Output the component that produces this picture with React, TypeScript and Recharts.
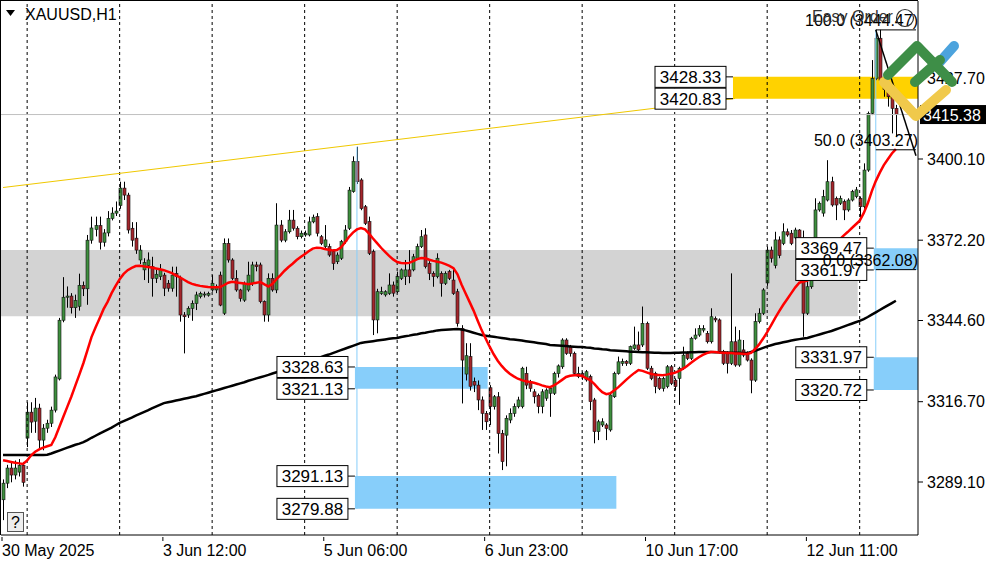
import React from 'react';
import {
  ComposedChart, Bar, Line, XAxis, YAxis, ReferenceArea, ReferenceLine, ReferenceDot,
} from 'recharts';

// H1 bars, [open, high, low, close]
const ohlc: number[][] = [
  [3283.0, 3290.0, 3276.0, 3288.7], [3288.7, 3295.0, 3287.0, 3293.9], [3293.9, 3296.0, 3289.0, 3291.5],
  [3291.5, 3296.5, 3290.0, 3293.9], [3292.5, 3297.0, 3291.0, 3294.8], [3294.8, 3296.0, 3287.5, 3289.0],
  [3304.2, 3316.5, 3301.1, 3313.1], [3313.1, 3316.5, 3306.0, 3309.7], [3310.0, 3318.0, 3306.0, 3314.5],
  [3314.5, 3316.0, 3300.5, 3303.5], [3303.5, 3309.0, 3300.0, 3307.6], [3307.6, 3310.5, 3306.0, 3309.3],
  [3309.3, 3315.0, 3308.0, 3313.8], [3313.8, 3326.0, 3313.0, 3325.2], [3324.5, 3345.5, 3324.0, 3344.7],
  [3344.7, 3359.5, 3344.0, 3352.6], [3352.6, 3356.3, 3349.0, 3353.0], [3353.0, 3354.0, 3347.0, 3349.0],
  [3349.0, 3353.5, 3345.5, 3351.5], [3349.5, 3360.7, 3348.0, 3356.7], [3356.7, 3358.0, 3353.0, 3355.5],
  [3355.5, 3374.0, 3350.0, 3372.2], [3372.2, 3380.3, 3371.0, 3376.4], [3375.9, 3380.3, 3373.5, 3377.2],
  [3377.2, 3380.3, 3369.0, 3371.5], [3371.5, 3376.0, 3370.0, 3374.7], [3374.7, 3382.2, 3373.5, 3379.7],
  [3379.7, 3383.5, 3379.0, 3381.5], [3381.5, 3385.5, 3380.5, 3382.2], [3384.1, 3392.3, 3383.0, 3390.1],
  [3390.1, 3392.3, 3386.0, 3387.7], [3387.7, 3388.5, 3374.5, 3375.7], [3376.3, 3378.4, 3370.0, 3372.2],
  [3372.9, 3378.4, 3367.5, 3368.8], [3365.4, 3370.5, 3364.0, 3368.8], [3362.0, 3366.0, 3358.5, 3364.5],
  [3363.5, 3368.0, 3357.5, 3365.4], [3363.1, 3366.5, 3352.8, 3359.1], [3359.1, 3362.0, 3357.5, 3360.5],
  [3359.7, 3364.0, 3358.5, 3362.0], [3360.2, 3361.0, 3353.0, 3355.7], [3357.4, 3358.5, 3354.5, 3355.7],
  [3355.7, 3363.1, 3354.5, 3360.2], [3360.8, 3363.1, 3352.8, 3359.7], [3359.1, 3360.0, 3344.2, 3346.5],
  [3346.5, 3347.5, 3333.3, 3345.9], [3346.5, 3349.5, 3345.5, 3348.8], [3348.8, 3351.5, 3344.5, 3350.5],
  [3350.5, 3354.5, 3348.2, 3353.4], [3352.8, 3354.5, 3352.2, 3353.9], [3353.4, 3354.5, 3352.5, 3353.7],
  [3353.3, 3354.5, 3352.8, 3353.9], [3355.1, 3360.2, 3354.5, 3357.4], [3355.1, 3357.0, 3354.0, 3356.2],
  [3360.2, 3361.4, 3349.5, 3349.9], [3347.1, 3372.8, 3346.5, 3371.1], [3371.1, 3372.8, 3364.5, 3365.4],
  [3365.4, 3366.0, 3358.5, 3359.1], [3359.1, 3361.9, 3354.5, 3355.1], [3355.1, 3355.5, 3351.1, 3352.2],
  [3351.6, 3358.0, 3351.0, 3357.4], [3355.1, 3364.8, 3354.5, 3360.2], [3357.4, 3364.8, 3356.5, 3363.7],
  [3363.7, 3364.8, 3361.5, 3363.1], [3363.7, 3364.5, 3350.5, 3351.1], [3351.1, 3351.5, 3344.2, 3346.5],
  [3346.5, 3360.8, 3344.2, 3359.1], [3359.1, 3360.8, 3354.5, 3355.1], [3355.1, 3384.9, 3354.0, 3377.4],
  [3377.4, 3379.1, 3371.5, 3372.2], [3372.2, 3376.0, 3371.5, 3375.1], [3375.1, 3382.6, 3374.5, 3379.1],
  [3379.1, 3382.6, 3375.5, 3376.3], [3376.3, 3377.0, 3372.5, 3373.4], [3373.4, 3375.5, 3372.8, 3374.6],
  [3374.0, 3375.5, 3373.4, 3374.6], [3374.0, 3380.3, 3373.5, 3378.5], [3378.5, 3381.0, 3378.0, 3380.1],
  [3380.3, 3381.5, 3373.5, 3374.6], [3373.4, 3374.0, 3370.5, 3371.1], [3370.0, 3377.4, 3369.5, 3372.3],
  [3370.0, 3371.0, 3366.5, 3367.1], [3368.3, 3369.0, 3362.0, 3364.2], [3364.8, 3368.0, 3364.0, 3367.1],
  [3366.0, 3372.3, 3365.4, 3371.7], [3371.7, 3377.4, 3371.0, 3375.7], [3376.3, 3390.5, 3375.7, 3389.4],
  [3388.9, 3401.0, 3388.5, 3399.2], [3399.2, 3404.3, 3391.5, 3392.3], [3392.9, 3393.5, 3382.5, 3383.1],
  [3383.7, 3384.3, 3377.4, 3378.0], [3378.6, 3380.3, 3367.1, 3367.7], [3368.3, 3369.0, 3339.6, 3344.8],
  [3344.8, 3355.5, 3340.2, 3354.5], [3353.9, 3356.2, 3353.4, 3354.5], [3353.4, 3355.0, 3352.8, 3354.5],
  [3353.9, 3360.8, 3353.4, 3356.8], [3356.8, 3358.0, 3352.8, 3354.0], [3354.5, 3361.4, 3354.0, 3359.7],
  [3359.1, 3362.5, 3358.5, 3362.0], [3359.7, 3365.4, 3356.8, 3362.0], [3362.0, 3368.8, 3357.4, 3359.7],
  [3362.0, 3367.5, 3361.5, 3366.5], [3366.0, 3371.0, 3365.5, 3370.0], [3370.0, 3375.7, 3369.5, 3373.4],
  [3374.0, 3376.3, 3362.5, 3363.1], [3364.2, 3365.0, 3358.5, 3360.8], [3360.8, 3361.5, 3356.2, 3359.7],
  [3359.7, 3367.7, 3359.1, 3366.0], [3360.8, 3361.5, 3352.8, 3357.4], [3357.4, 3361.5, 3356.8, 3360.8],
  [3361.4, 3362.0, 3358.5, 3359.1], [3358.5, 3362.5, 3353.4, 3353.9], [3354.5, 3355.5, 3342.5, 3343.6],
  [3341.9, 3343.0, 3316.1, 3331.0], [3326.2, 3336.8, 3324.0, 3332.5], [3332.2, 3336.8, 3320.5, 3322.0],
  [3323.6, 3325.0, 3320.0, 3322.4], [3322.4, 3324.0, 3313.8, 3317.3], [3317.3, 3318.5, 3307.0, 3312.7],
  [3312.7, 3313.5, 3307.0, 3309.8], [3321.5, 3322.4, 3308.7, 3315.0], [3315.0, 3319.0, 3314.0, 3318.4],
  [3318.4, 3320.0, 3298.9, 3305.8], [3305.8, 3307.0, 3293.2, 3296.1], [3305.2, 3312.0, 3294.5, 3311.0],
  [3310.4, 3314.4, 3309.3, 3312.7], [3312.7, 3316.1, 3311.5, 3315.0], [3315.0, 3318.4, 3314.4, 3317.3],
  [3315.0, 3328.7, 3314.4, 3328.2], [3326.4, 3328.7, 3321.0, 3322.4], [3323.6, 3324.2, 3320.1, 3321.3],
  [3320.1, 3321.0, 3316.1, 3318.4], [3318.9, 3319.5, 3312.7, 3315.0], [3315.0, 3321.0, 3312.7, 3320.1],
  [3317.9, 3321.3, 3317.0, 3320.7], [3319.6, 3322.0, 3311.5, 3321.3], [3319.6, 3327.0, 3319.0, 3326.4],
  [3326.4, 3329.5, 3325.0, 3329.0], [3328.7, 3338.5, 3328.0, 3337.9], [3337.9, 3338.5, 3332.8, 3333.3],
  [3335.6, 3336.2, 3332.2, 3333.3], [3333.3, 3333.9, 3325.9, 3326.4], [3325.3, 3328.7, 3324.8, 3326.4],
  [3326.4, 3327.0, 3324.2, 3325.3], [3324.2, 3327.6, 3323.6, 3327.0], [3325.3, 3326.0, 3313.8, 3316.7],
  [3317.3, 3318.0, 3302.4, 3306.4], [3306.4, 3310.5, 3303.5, 3309.8], [3308.7, 3311.0, 3308.0, 3309.8],
  [3308.7, 3309.3, 3303.5, 3307.5], [3307.0, 3319.6, 3306.4, 3319.0], [3318.4, 3327.0, 3318.0, 3326.4],
  [3326.4, 3332.2, 3326.0, 3330.4], [3329.9, 3331.5, 3329.0, 3330.5], [3330.5, 3331.0, 3329.0, 3329.9],
  [3329.9, 3336.0, 3329.3, 3335.6], [3335.0, 3342.5, 3334.5, 3336.2], [3336.2, 3340.8, 3334.0, 3334.5],
  [3336.2, 3349.4, 3335.5, 3343.6], [3343.6, 3344.2, 3327.6, 3328.2], [3328.2, 3329.0, 3324.1, 3324.7],
  [3326.4, 3327.0, 3319.6, 3321.9], [3324.7, 3325.3, 3320.7, 3321.3], [3321.3, 3325.3, 3320.2, 3324.7],
  [3321.9, 3329.3, 3321.3, 3328.7], [3328.7, 3329.3, 3322.4, 3323.0], [3324.1, 3324.7, 3320.5, 3321.9],
  [3324.7, 3328.7, 3315.6, 3328.2], [3328.2, 3335.6, 3327.6, 3332.7], [3333.3, 3334.0, 3331.0, 3331.6],
  [3331.6, 3339.0, 3331.0, 3338.5], [3338.5, 3341.9, 3338.0, 3339.6], [3339.6, 3343.0, 3339.0, 3341.9],
  [3341.3, 3343.0, 3340.5, 3341.9], [3340.2, 3341.0, 3336.7, 3337.3], [3337.3, 3348.8, 3336.7, 3345.9],
  [3345.3, 3346.0, 3344.0, 3344.8], [3344.8, 3345.3, 3333.3, 3333.9], [3333.9, 3334.5, 3329.3, 3329.9],
  [3333.3, 3334.0, 3326.4, 3329.9], [3329.9, 3360.8, 3329.3, 3337.3], [3337.3, 3342.5, 3328.7, 3329.3],
  [3329.3, 3341.3, 3328.7, 3337.9], [3334.5, 3337.9, 3332.0, 3332.7], [3333.3, 3334.0, 3330.5, 3331.0],
  [3331.0, 3331.6, 3319.6, 3324.1], [3324.1, 3347.1, 3323.5, 3344.2], [3344.2, 3348.8, 3343.6, 3347.1],
  [3347.1, 3355.7, 3346.5, 3355.1], [3357.5, 3370.0, 3356.5, 3368.8], [3368.8, 3370.0, 3364.5, 3366.0],
  [3363.5, 3375.1, 3362.5, 3372.3], [3372.3, 3373.5, 3366.0, 3367.0], [3371.1, 3378.0, 3370.5, 3375.1],
  [3375.1, 3376.2, 3373.4, 3374.0], [3374.6, 3375.7, 3370.5, 3371.1], [3373.0, 3376.5, 3372.5, 3375.7],
  [3375.7, 3376.0, 3369.4, 3370.0], [3372.5, 3375.5, 3339.0, 3347.1], [3347.1, 3366.5, 3346.5, 3356.2],
  [3356.2, 3366.0, 3355.5, 3365.4], [3365.4, 3386.6, 3364.8, 3382.6], [3382.6, 3385.5, 3382.0, 3384.9],
  [3381.5, 3389.5, 3380.3, 3387.2], [3386.0, 3399.7, 3385.5, 3392.3], [3392.3, 3394.0, 3383.7, 3384.3],
  [3386.6, 3387.2, 3379.1, 3384.3], [3384.9, 3387.5, 3384.3, 3386.6], [3385.5, 3386.2, 3379.1, 3382.6],
  [3382.6, 3386.6, 3382.0, 3386.0], [3386.0, 3389.5, 3385.5, 3388.9], [3387.2, 3390.5, 3386.6, 3389.5],
  [3386.6, 3387.2, 3379.1, 3383.7], [3383.7, 3398.6, 3383.0, 3396.3], [3396.3, 3416.4, 3395.7, 3415.8],
  [3415.8, 3434.1, 3415.2, 3427.8], [3427.8, 3444.5, 3427.2, 3441.6], [3441.6, 3444.5, 3426.5, 3427.2],
  [3427.2, 3430.0, 3421.5, 3424.0], [3424.0, 3426.0, 3418.1, 3421.5], [3421.5, 3423.0, 3408.9, 3417.5],
  [3417.5, 3418.7, 3407.8, 3415.4],
];

// red moving average (fast)
const maFast: number[] = [
  3296.6, 3296.3, 3296.0, 3295.7, 3295.5, 3295.3, 3296.5, 3298.3, 3299.5, 3300.3, 3300.9, 3301.4,
  3301.8, 3304.5, 3308.0, 3311.5, 3315.0, 3318.5, 3322.3, 3326.1, 3330.0, 3334.4, 3338.9, 3342.2,
  3345.3, 3348.5, 3351.0, 3354.0, 3356.5, 3358.8, 3360.6, 3361.9, 3362.7, 3363.3, 3363.4, 3363.2,
  3363.0, 3362.8, 3362.5, 3362.2, 3361.9, 3361.4, 3360.9, 3360.1, 3359.4, 3358.6, 3357.8, 3357.2,
  3356.8, 3356.5, 3356.3, 3356.1, 3356.0, 3356.0, 3356.1, 3356.8, 3357.6, 3357.9, 3357.7, 3357.5,
  3357.3, 3357.1, 3357.3, 3357.6, 3357.8, 3357.0, 3356.3, 3357.2, 3358.8, 3360.2, 3361.7, 3363.0,
  3364.1, 3365.4, 3366.4, 3367.4, 3368.4, 3369.3, 3369.6, 3369.5, 3369.2, 3368.9, 3368.7, 3368.8,
  3369.7, 3371.4, 3373.3, 3374.8, 3375.9, 3376.4, 3375.9, 3374.5, 3372.8, 3371.2, 3369.6, 3368.2,
  3366.8, 3365.6, 3364.7, 3364.4, 3364.3, 3364.4, 3365.0, 3365.7, 3366.1, 3366.0, 3365.5, 3365.1,
  3364.8, 3364.5, 3364.0, 3363.4, 3362.6, 3360.5, 3357.0, 3354.0, 3351.0, 3348.0, 3344.6, 3341.3,
  3338.4, 3335.6, 3333.0, 3330.8, 3329.0, 3327.5, 3326.3, 3325.4, 3324.6, 3324.1, 3323.7, 3323.5,
  3323.2, 3322.8, 3322.3, 3321.9, 3321.7, 3322.3, 3323.2, 3324.2, 3325.2, 3325.6, 3325.8, 3325.9,
  3325.5, 3324.8, 3324.1, 3322.8, 3321.3, 3320.0, 3319.3, 3319.6, 3320.6, 3321.7, 3323.0, 3324.3,
  3325.5, 3326.6, 3327.6, 3327.3, 3326.8, 3326.3, 3326.0, 3325.9, 3325.8, 3326.0, 3326.3, 3326.6,
  3327.2, 3328.0, 3328.9, 3330.0, 3331.0, 3332.0, 3332.8, 3333.4, 3333.8, 3333.8, 3333.6, 3333.5,
  3333.4, 3333.4, 3333.3, 3333.3, 3333.2, 3333.1, 3333.5, 3334.8, 3336.4, 3338.4, 3340.6, 3343.0,
  3345.5, 3347.8, 3350.0, 3352.0, 3354.0, 3356.0, 3357.6, 3358.0, 3358.3, 3359.8, 3361.6, 3363.6,
  3365.7, 3367.8, 3369.4, 3370.9, 3372.4, 3373.8, 3375.0, 3376.3, 3377.6, 3378.9, 3381.5, 3384.8,
  3389.0, 3392.5, 3395.4, 3398.0, 3400.0, 3402.0, 3403.5,
];

// black moving average (slow)
const maSlow: number[] = [
  3298.4, 3298.4, 3298.4, 3298.4, 3298.4, 3298.4, 3298.4, 3298.4, 3298.4, 3298.4, 3298.4, 3298.5,
  3298.9, 3299.4, 3299.9, 3300.4, 3300.9, 3301.4, 3301.9, 3302.3, 3302.8, 3303.5, 3304.3, 3305.0,
  3305.7, 3306.4, 3307.1, 3307.8, 3308.6, 3309.4, 3310.0, 3310.6, 3311.2, 3311.9, 3312.5, 3313.1,
  3313.7, 3314.4, 3315.0, 3315.6, 3316.2, 3316.5, 3316.8, 3317.1, 3317.4, 3317.7, 3318.0, 3318.3,
  3318.6, 3319.0, 3319.4, 3319.8, 3320.2, 3320.6, 3321.0, 3321.4, 3321.8, 3322.2, 3322.6, 3323.0,
  3323.4, 3323.9, 3324.3, 3324.7, 3325.1, 3325.5, 3325.9, 3326.4, 3326.8, 3327.2, 3327.7, 3328.2,
  3328.6, 3329.1, 3329.6, 3330.1, 3330.6, 3331.1, 3331.5, 3332.0, 3332.5, 3332.9, 3333.4, 3333.9,
  3334.4, 3334.9, 3335.4, 3335.9, 3336.4, 3336.9, 3337.1, 3337.3, 3337.5, 3337.7, 3337.9, 3338.1,
  3338.3, 3338.5, 3338.6, 3338.9, 3339.2, 3339.4, 3339.7, 3339.9, 3340.2, 3340.4, 3340.7, 3340.9,
  3341.2, 3341.3, 3341.4, 3341.5, 3341.6, 3341.7, 3341.5, 3341.2, 3340.8, 3340.4, 3340.0, 3339.6,
  3339.4, 3339.2, 3339.0, 3338.8, 3338.6, 3338.4, 3338.2, 3338.1, 3337.9, 3337.7, 3337.5, 3337.3,
  3337.1, 3336.9, 3336.7, 3336.5, 3336.2, 3336.1, 3336.0, 3335.9, 3335.8, 3335.7, 3335.6, 3335.5,
  3335.5, 3335.3, 3335.2, 3335.0, 3334.9, 3334.7, 3334.6, 3334.4, 3334.3, 3334.2, 3334.1, 3334.0,
  3333.9, 3333.9, 3333.8, 3333.7, 3333.7, 3333.6, 3333.5, 3333.5, 3333.4, 3333.4, 3333.4, 3333.5,
  3333.5, 3333.6, 3333.6, 3333.7, 3333.7, 3333.8, 3333.8, 3333.8, 3333.8, 3333.7, 3333.7, 3333.6,
  3333.6, 3333.5, 3333.5, 3333.5, 3333.4, 3333.4, 3333.8, 3334.2, 3334.7, 3335.2, 3335.7, 3336.1,
  3336.5, 3336.8, 3337.1, 3337.4, 3337.7, 3338.0, 3338.2, 3338.4, 3338.6, 3339.0, 3339.4, 3339.8,
  3340.2, 3340.6, 3341.0, 3341.5, 3342.0, 3342.5, 3343.0, 3343.5, 3344.0, 3344.5, 3345.1, 3345.8,
  3346.6, 3347.4, 3348.2, 3349.0, 3349.8, 3350.6, 3351.4,
];

const timeTickIdx = [0, 40, 80, 120, 160, 200];
const timeTickText = ['30 May 2025', '3 Jun 12:00', '5 Jun 06:00', '6 Jun 23:00', '10 Jun 17:00', '12 Jun 11:00'];
const dayStartIdx = [6, 29, 52, 75, 98, 121, 144, 167, 190, 213];
const priceTicks = [3289.1, 3316.7, 3344.6, 3372.2, 3400.1, 3427.7];

const bid = 3415.38;
const SLOTS = 228;

// supply/demand boxes: [firstBar, lastBar or null (to the edge), low, high]
const grayZone = [null, 212, 3346.1, 3368.8];
const yellowZone = [182, null, 3420.83, 3428.33];
const blueZones = [
  [88, 120, 3321.13, 3328.63],
  [88, 152, 3279.88, 3291.13],
  [217, null, 3320.72, 3331.97],
  [217, null, 3361.97, 3369.47],
];
// price tags: [bar, price]
const priceTags = [
  [182, 3428.33], [182, 3420.83],
  [88, 3328.63], [88, 3321.13], [88, 3291.13], [88, 3279.88],
  [217, 3369.47], [217, 3361.97], [217, 3331.97], [217, 3320.72],
];
const fibLevels = [
  { level: '100.0', price: 3444.47 },
  { level: '50.0', price: 3403.27 },
  { level: '0.0', price: 3362.08 },
];

const data = Array.from({ length: SLOTS }, (_, i) => {
  const c = ohlc[i];
  return {
    idx: i,
    open: c ? c[0] : null,
    high: c ? c[1] : null,
    low: c ? c[2] : null,
    close: c ? c[3] : null,
    range: c ? [c[2], c[1]] : null,
    fast: i < maFast.length ? maFast[i] : null,
    slow: i < maSlow.length ? maSlow[i] : null,
  };
});

const FONT = '"Liberation Sans", Arial, sans-serif';

function Candle(props: any) {
  const { x, y, width, height, payload } = props;
  if (!payload || payload.high == null) return null;
  const top = height < 0 ? y + height : y;
  const h = Math.abs(height);
  const { open, high, low, close } = payload;
  const span = high - low || 1;
  const py = (v: number) => top + ((high - v) / span) * h;
  const cx = Math.round(x + width / 2) + 0.5;
  const b1 = py(Math.max(open, close));
  const b2 = py(Math.min(open, close));
  const up = close >= open;
  return (
    <g>
      <line x1={cx} x2={cx} y1={top} y2={top + h} stroke="#000" strokeWidth={1} />
      <rect x={cx - 1.5} y={b1} width={3} height={Math.max(b2 - b1, 1)}
        fill={up ? '#3e8f3e' : '#a4262c'} stroke="#111" strokeWidth={0.6} />
    </g>
  );
}

function TimeTick(props: any) {
  const { x, y, payload } = props;
  const k = timeTickIdx.indexOf(payload.value);
  if (k < 0) return null;
  return (
    <g>
      <line x1={x - 1} x2={x - 1} y1={y} y2={y + 4} stroke="#000" />
      <text x={x - 1} y={y + 19} fontSize={16} fontFamily={FONT} fill="#000">{timeTickText[k]}</text>
    </g>
  );
}

function PriceTag(props: any) {
  const { cx, cy, label } = props;
  const right = cx - 9;
  return (
    <g>
      <line x1={right} x2={cx - 2} y1={cy} y2={cy} stroke="#000" />
      <rect x={right - 71} y={cy - 10.5} width={71} height={21} fill="#fff" stroke="#000" strokeWidth={1} />
      <text x={right - 35.5} y={cy + 6} textAnchor="middle" fontSize={17} fontFamily={FONT} fill="#000">{label}</text>
    </g>
  );
}

function FibText(props: any) {
  const { cx, cy, label } = props;
  return (
    <text x={cx + 2} y={cy - 4} textAnchor="end" fontSize={16} fontFamily={FONT} fill="#000">{label}</text>
  );
}

function BidTag(props: any) {
  const { viewBox } = props;
  if (!viewBox) return null;
  const x0 = viewBox.x + viewBox.width + 2;
  return (
    <g>
      <rect x={x0} y={viewBox.y - 9.5} width={66} height={19} fill="#000" />
      <text x={x0 + 3} y={viewBox.y + 6} fontSize={16} fontFamily={FONT} fill="#fff">{bid.toFixed(2)}</text>
    </g>
  );
}

export default function App() {
  return (
    <div style={{ position: 'absolute', left: 0, top: 0, width: 1000, height: 562, background: '#fff', overflow: 'hidden' }}>
      <ComposedChart width={1000} height={562} data={data} margin={{ top: 1, right: 0, bottom: 1, left: 1 }}
        barCategoryGap={0}>
        <XAxis dataKey="idx" type="category" height={26} interval={0} ticks={timeTickIdx}
          tick={<TimeTick />} tickLine={false} tickSize={0} axisLine={{ stroke: '#000' }} />
        <YAxis orientation="right" width={82} type="number" domain={[3270.89, 3454.4]} allowDataOverflow
          ticks={priceTicks} interval={0} tickFormatter={(v: number) => v.toFixed(2)}
          tick={{ fontSize: 16, fontFamily: FONT, fill: '#000' }} tickSize={5} tickMargin={4}
          tickLine={{ stroke: '#000' }} axisLine={{ stroke: '#000' }} />

        <ReferenceArea x2={grayZone[1] as number} y1={grayZone[2] as number} y2={grayZone[3] as number}
          fill="#d3d3d3" fillOpacity={1} stroke="none" />
        <ReferenceArea x1={yellowZone[0] as number} y1={yellowZone[2] as number} y2={yellowZone[3] as number}
          fill="#ffd200" fillOpacity={1} stroke="none" />
        {blueZones.map((z, k) => (
          <ReferenceArea key={'b' + k} x1={z[0] as number} x2={(z[1] ?? undefined) as any}
            y1={z[2] as number} y2={z[3] as number} fill="#87cefa" fillOpacity={1} stroke="none" />
        ))}

        {dayStartIdx.map((d) => (
          <ReferenceLine key={'d' + d} x={d} stroke="#000" strokeDasharray="3 3" strokeWidth={1} />
        ))}
        <ReferenceLine y={bid} stroke="#c0c0c0" strokeWidth={1} label={<BidTag />} />
        <ReferenceLine segment={[{ x: 0, y: 3390.3 }, { x: 182, y: 3420.9 }]} stroke="#f0c800" strokeWidth={1} />
        <ReferenceLine segment={[{ x: 88, y: 3404.3 }, { x: 88, y: 3279.88 }]} stroke="#87cefa" strokeWidth={1} />
        <ReferenceLine segment={[{ x: 217, y: 3444.47 }, { x: 217, y: 3320.72 }]} stroke="#87cefa" strokeWidth={1} />

        <Bar dataKey="range" shape={<Candle />} isAnimationActive={false} />
        <Line dataKey="slow" type="linear" stroke="#000" strokeWidth={2.5} dot={false} activeDot={false} isAnimationActive={false} />
        <Line dataKey="fast" type="linear" stroke="#ff0000" strokeWidth={2.5} dot={false} activeDot={false} isAnimationActive={false} />

        {fibLevels.map((f) => (
          <ReferenceLine key={'f' + f.level} segment={[{ x: 217, y: f.price }, { x: 227, y: f.price }]}
            stroke="#000" strokeWidth={1} />
        ))}
        <ReferenceLine segment={[{ x: 217, y: 3444.47 }, { x: 227, y: 3401.2 }]} stroke="#000" strokeWidth={1.5} />
        {priceTags.map((t, k) => (
          <ReferenceDot key={'t' + k} x={t[0]} y={t[1]} r={0}
            shape={(p: any) => <PriceTag {...p} label={t[1].toFixed(2)} />} />
        ))}
        {fibLevels.map((f) => (
          <ReferenceDot key={'ft' + f.level} x={227} y={f.price} r={0}
            shape={(p: any) => <FibText {...p} label={`${f.level} (${f.price.toFixed(2)})`} />} />
        ))}
      </ComposedChart>

      <svg width={1000} height={562} style={{ position: 'absolute', left: 0, top: 0, pointerEvents: 'none' }}>
        <line x1={0.5} y1={0} x2={0.5} y2={535} stroke="#000" />
        <line x1={0} y1={0.5} x2={918} y2={0.5} stroke="#000" />
        <path d="M6,10 L15,10 L10.5,16 Z" fill="#000" />
        <text x={25} y={20} fontSize={16} fontFamily={FONT} fill="#000">XAUUSD,H1</text>
        <rect x={7.5} y={512.5} width={16} height={19} fill="#eee" stroke="#555" />
        <text x={15.5} y={528} textAnchor="middle" fontSize={16} fontFamily={FONT} fill="#000">?</text>
        <text x={812} y={22} fontSize={16} fontFamily={FONT} fill="#333">Easy Order</text>
        <circle cx={905} cy={18} r={8.5} fill="none" stroke="#333" strokeWidth={1.2} />
        <g fill="none" strokeLinecap="round" strokeLinejoin="round" strokeWidth={10}>
          <path d="M884,82 L916,116 L946,90" stroke="#f0c94b" />
          <path d="M938,64 L954,46" stroke="#4ca3dd" />
          <path d="M888,75 L917,46 L952,82" stroke="#3e8e47" />
          <path d="M915,82 L940,60" stroke="#3e8e47" />
        </g>
      </svg>
    </div>
  );
}
